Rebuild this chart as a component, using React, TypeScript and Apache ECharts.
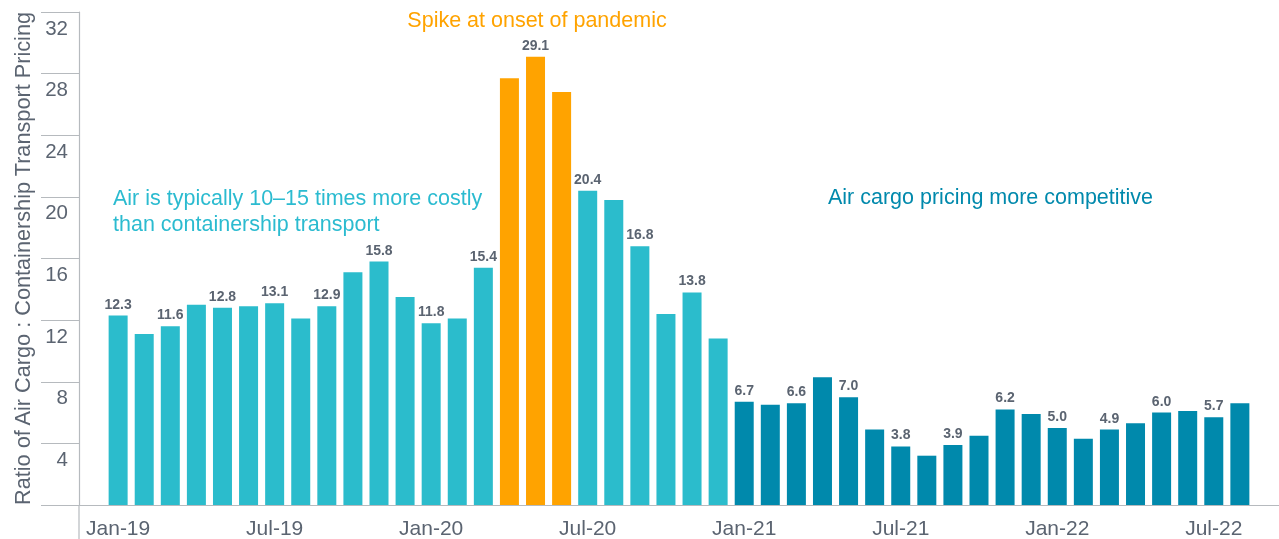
import React, { useEffect, useRef } from 'react';
import * as echarts from 'echarts';

const months = [
  'Jan-19', 'Feb-19', 'Mar-19', 'Apr-19', 'May-19', 'Jun-19', 'Jul-19', 'Aug-19', 'Sep-19', 'Oct-19', 'Nov-19', 'Dec-19',
  'Jan-20', 'Feb-20', 'Mar-20', 'Apr-20', 'May-20', 'Jun-20', 'Jul-20', 'Aug-20', 'Sep-20', 'Oct-20', 'Nov-20', 'Dec-20',
  'Jan-21', 'Feb-21', 'Mar-21', 'Apr-21', 'May-21', 'Jun-21', 'Jul-21', 'Aug-21', 'Sep-21', 'Oct-21', 'Nov-21', 'Dec-21',
  'Jan-22', 'Feb-22', 'Mar-22', 'Apr-22', 'May-22', 'Jun-22', 'Jul-22', 'Aug-22',
];

const ratios = [
  12.3, 11.1, 11.6, 13.0, 12.8, 12.9, 13.1, 12.1, 12.9, 15.1, 15.8, 13.5,
  11.8, 12.1, 15.4, 27.7, 29.1, 26.8, 20.4, 19.8, 16.8, 12.4, 13.8, 10.8,
  6.7, 6.5, 6.6, 8.3, 7.0, 4.9, 3.8, 3.2, 3.9, 4.5, 6.2, 5.9,
  5.0, 4.3, 4.9, 5.3, 6.0, 6.1, 5.7, 6.6,
];

const spikeMonths = ['Apr-20', 'May-20', 'Jun-20'];
const competitiveStart = 'Jan-21';

const yTicks = { min: 0, max: 32, interval: 4 };

const annotations = {
  typical: 'Air is typically 10\u201315 times more costly\nthan containership transport',
  spike: 'Spike at onset of pandemic',
  competitive: 'Air cargo pricing more competitive',
};

const yAxisTitle = 'Ratio of Air Cargo : Containership Transport Pricing';

const COLORS = {
  typical: '#2BBCCC',
  spike: '#FFA300',
  competitive: '#0089AC',
  typicalText: '#2BBBD0',
  axis: '#B6BABE',
  label: '#5B6471',
};

const FONT = '"Liberation Sans", Arial, Helvetica, sans-serif';

export default function App() {
  const ref = useRef<HTMLDivElement>(null);

  useEffect(() => {
    const chart = echarts.init(ref.current!, null, { renderer: 'svg' });
    const startIdx = months.indexOf(competitiveStart);
    const cats = ['', ...months, ''];
    const data: any[] = [
      null,
      ...ratios.map((v, i) => {
        let color = COLORS.typical;
        if (spikeMonths.includes(months[i])) color = COLORS.spike;
        else if (i >= startIdx) color = COLORS.competitive;
        return { value: v, itemStyle: { color }, label: { show: i % 2 === 0 } };
      }),
      null,
    ];

    chart.setOption({
      animation: false,
      textStyle: { fontFamily: FONT },
      grid: { left: 79, top: 12, width: 1205, height: 493 },
      xAxis: {
        type: 'category',
        data: cats,
        boundaryGap: true,
        axisLine: { show: true, lineStyle: { color: COLORS.axis, width: 1.2 } },
        axisTick: { show: false },
        axisLabel: {
          interval: (_i: number, v: string) => v.startsWith('Jan') || v.startsWith('Jul'),
          margin: 12,
          fontSize: 21,
          color: COLORS.label,
          fontFamily: FONT,
        },
        splitLine: { show: false },
      },
      yAxis: {
        type: 'value',
        min: yTicks.min,
        max: yTicks.max,
        interval: yTicks.interval,
        name: yAxisTitle,
        nameLocation: 'middle',
        nameGap: 46,
        nameTextStyle: { fontSize: 21.7, color: COLORS.label, fontFamily: FONT },
        axisLine: { show: true, lineStyle: { color: COLORS.axis, width: 1.2 } },
        axisTick: { show: true, length: 38, lineStyle: { color: COLORS.axis, width: 1.2 } },
        splitLine: { show: false },
        axisLabel: {
          formatter: (v: number) => (v === 0 ? '' : String(v)),
          verticalAlign: 'top',
          lineHeight: 30,
          margin: 11,
          fontSize: 20.5,
          color: COLORS.label,
          fontFamily: FONT,
        },
      },
      series: [
        {
          type: 'bar',
          data,
          barWidth: 19,
          label: {
            position: 'top',
            distance: 5,
            fontSize: 14,
            fontWeight: 'bold',
            color: COLORS.label,
            fontFamily: FONT,
            formatter: (p: any) => Number(p.value).toFixed(1),
          },
        },
      ],
      graphic: [
        {
          type: 'line',
          shape: { x1: 79, y1: 505, x2: 79, y2: 539 },
          style: { stroke: COLORS.axis, lineWidth: 1.2 },
        },
        {
          type: 'text',
          x: 113,
          y: 211,
          style: {
            text: annotations.typical,
            fontSize: 21.5,
            lineHeight: 25.7,
            fill: COLORS.typicalText,
            fontFamily: FONT,
            align: 'left',
            verticalAlign: 'middle',
          },
        },
        {
          type: 'text',
          x: 537,
          y: 20,
          style: {
            text: annotations.spike,
            fontSize: 21.5,
            fill: COLORS.spike,
            fontFamily: FONT,
            align: 'center',
            verticalAlign: 'middle',
          },
        },
        {
          type: 'text',
          x: 828,
          y: 197,
          style: {
            text: annotations.competitive,
            fontSize: 21.5,
            fill: COLORS.competitive,
            fontFamily: FONT,
            align: 'left',
            verticalAlign: 'middle',
          },
        },
      ],
    });

    return () => chart.dispose();
  }, []);

  return (
    <div
      ref={ref}
      style={{ position: 'fixed', left: 0, top: 0, width: 1279, height: 539 }}
    />
  );
}
